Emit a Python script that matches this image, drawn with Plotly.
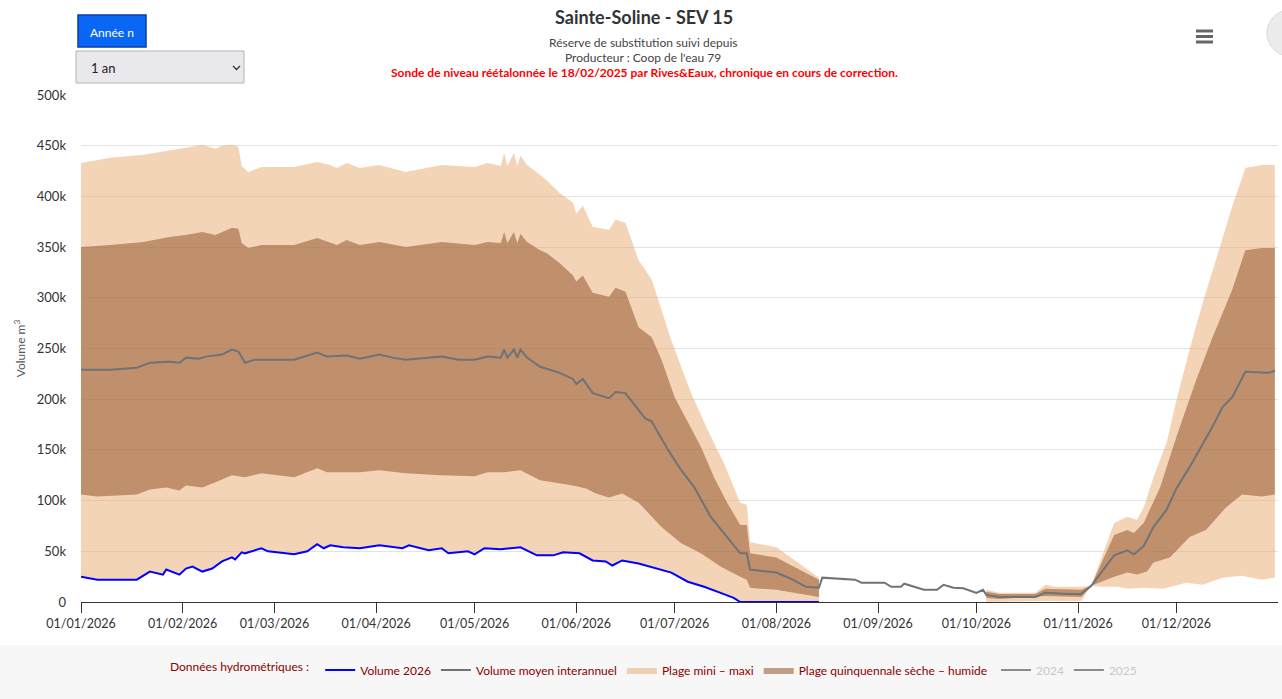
import plotly.graph_objects as go

# ---------------- DATA (values in m3) ----------------
max1_dates = ["2026-01-01","2026-01-06","2026-01-10","2026-01-20","2026-01-28","2026-02-02","2026-02-07","2026-02-11","2026-02-13","2026-02-16","2026-02-18","2026-02-19","2026-02-21","2026-02-25","2026-03-07","2026-03-14","2026-03-18","2026-03-20","2026-03-23","2026-03-27","2026-04-02","2026-04-10","2026-04-21","2026-05-01","2026-05-05","2026-05-09","2026-05-10","2026-05-11","2026-05-13","2026-05-14","2026-05-15","2026-05-17","2026-05-21","2026-05-23","2026-05-27","2026-05-31","2026-06-01","2026-06-03","2026-06-06","2026-06-11","2026-06-13","2026-06-16","2026-06-20","2026-06-24","2026-06-30","2026-07-06","2026-07-11","2026-07-16","2026-07-21","2026-07-23","2026-07-24","2026-08-01","2026-08-08","2026-08-14"]
max1_vals = [433000,436000,438000,441000,445000,448000,451000,447000,450000,451000,449000,430000,424000,429000,429000,434000,431000,428000,433000,428000,431000,424000,431000,429000,433000,430000,443000,430000,443000,430000,440000,431000,421000,416000,403000,394000,383000,391000,370000,367000,377000,374000,337000,318000,258000,206000,170000,137000,98000,96000,59000,54000,38000,24000]

qhigh1_dates = ["2026-01-01","2026-01-06","2026-01-10","2026-01-20","2026-01-28","2026-02-02","2026-02-07","2026-02-11","2026-02-16","2026-02-18","2026-02-19","2026-02-21","2026-02-25","2026-03-07","2026-03-14","2026-03-20","2026-03-23","2026-03-27","2026-04-02","2026-04-10","2026-04-21","2026-05-01","2026-05-05","2026-05-09","2026-05-10","2026-05-11","2026-05-13","2026-05-14","2026-05-15","2026-05-17","2026-05-21","2026-05-23","2026-05-27","2026-05-31","2026-06-01","2026-06-03","2026-06-06","2026-06-11","2026-06-13","2026-06-16","2026-06-20","2026-06-24","2026-06-27","2026-07-01","2026-07-05","2026-07-09","2026-07-13","2026-07-17","2026-07-21","2026-07-23","2026-07-24","2026-08-01","2026-08-08","2026-08-14"]
qhigh1_vals = [350000,351000,352000,355000,360000,362000,365000,362000,369000,368000,354000,349000,352000,352000,359000,352000,357000,352000,355000,350000,355000,352000,355000,354000,365000,354000,365000,354000,363000,355000,347000,344000,334000,322000,316000,322000,305000,301000,310000,306000,271000,261000,239000,202000,177000,153000,123000,98000,76000,76000,48000,44000,32000,22000]

qlow1_dates = ["2026-01-01","2026-01-06","2026-01-18","2026-01-22","2026-01-27","2026-01-31","2026-02-02","2026-02-07","2026-02-11","2026-02-16","2026-02-20","2026-02-25","2026-03-07","2026-03-14","2026-03-17","2026-03-27","2026-04-02","2026-04-10","2026-04-21","2026-05-01","2026-05-05","2026-05-10","2026-05-15","2026-05-21","2026-05-31","2026-06-04","2026-06-07","2026-06-11","2026-06-15","2026-06-20","2026-06-27","2026-07-03","2026-07-09","2026-07-15","2026-07-21","2026-07-23","2026-07-24","2026-08-01","2026-08-14"]
qlow1_vals = [106000,104000,106000,111000,113000,110000,115000,113000,118000,125000,123000,127000,123000,132000,128000,128000,130000,127000,125000,124000,128000,128000,130000,120000,115000,112000,107000,103000,107000,98000,74000,58000,48000,35000,25000,22000,14000,12000,5000]

min1_dates = ["2026-01-01","2026-01-06","2026-01-18","2026-01-22","2026-01-26","2026-01-27","2026-01-31","2026-02-02","2026-02-04","2026-02-07","2026-02-10","2026-02-13","2026-02-16","2026-02-17","2026-02-19","2026-02-20","2026-02-25","2026-02-27","2026-03-07","2026-03-11","2026-03-14","2026-03-16","2026-03-18","2026-03-22","2026-03-27","2026-04-02","2026-04-09","2026-04-11","2026-04-17","2026-04-21","2026-04-23","2026-04-29","2026-05-01","2026-05-04","2026-05-09","2026-05-15","2026-05-20","2026-05-25","2026-05-28","2026-06-02","2026-06-06","2026-06-10","2026-06-12","2026-06-15","2026-06-20","2026-06-30","2026-07-05","2026-07-10","2026-07-15","2026-07-19","2026-07-21","2026-08-14"]
min1_vals = [25000,22000,22000,30000,27000,32000,27000,33000,35000,30000,33000,40000,44000,42000,49000,48000,53000,50000,47000,50000,57000,53000,56000,54000,53000,56000,53000,56000,51000,53000,48000,50000,47000,53000,52000,54000,46000,46000,49000,48000,41000,40000,36000,41000,38000,29000,20000,15000,9000,4000,0,0]

max2_dates = ["2026-10-04","2026-10-08","2026-10-19","2026-10-22","2026-10-25","2026-11-02","2026-11-05","2026-11-12","2026-11-16","2026-11-19","2026-11-21","2026-11-24","2026-11-28","2026-12-01","2026-12-05","2026-12-09","2026-12-13","2026-12-18","2026-12-22","2026-12-27","2026-12-31"]
max2_vals = [12000,9000,9000,17000,15000,15000,16000,78000,84000,81000,93000,123000,157000,199000,249000,295000,337000,390000,428000,431000,431000]

qhigh2_dates = ["2026-10-04","2026-10-08","2026-10-19","2026-10-22","2026-11-02","2026-11-05","2026-11-12","2026-11-16","2026-11-18","2026-11-21","2026-11-26","2026-12-01","2026-12-07","2026-12-12","2026-12-18","2026-12-22","2026-12-27","2026-12-31"]
qhigh2_vals = [10000,8000,8000,13000,12000,16000,66000,71000,68000,78000,113000,163000,219000,261000,308000,347000,349000,349000]

qlow2_dates = ["2026-10-04","2026-10-08","2026-10-22","2026-11-02","2026-11-05","2026-11-12","2026-11-16","2026-11-19","2026-11-22","2026-11-24","2026-11-29","2026-12-05","2026-12-10","2026-12-16","2026-12-21","2026-12-27","2026-12-31"]
qlow2_vals = [4000,3000,6000,5000,16000,25000,29000,27000,30000,39000,44000,64000,71000,93000,106000,104000,106000]

min2_dates = ["2026-10-04","2026-10-19","2026-11-02","2026-11-05","2026-11-08","2026-11-13","2026-11-16","2026-11-21","2026-11-27","2026-12-04","2026-12-09","2026-12-15","2026-12-21","2026-12-27","2026-12-31"]
min2_vals = [0,1000,1000,16000,15000,15000,13000,14000,13000,19000,17000,24000,26000,22000,24000]

mean_dates = ["2026-01-01","2026-01-10","2026-01-18","2026-01-22","2026-01-28","2026-01-31","2026-02-02","2026-02-06","2026-02-08","2026-02-13","2026-02-16","2026-02-18","2026-02-20","2026-02-23","2026-03-07","2026-03-14","2026-03-17","2026-03-23","2026-03-27","2026-04-02","2026-04-06","2026-04-10","2026-04-21","2026-04-26","2026-05-01","2026-05-05","2026-05-09","2026-05-10","2026-05-11","2026-05-13","2026-05-14","2026-05-15","2026-05-17","2026-05-21","2026-05-27","2026-05-31","2026-06-01","2026-06-03","2026-06-06","2026-06-11","2026-06-13","2026-06-16","2026-06-22","2026-06-24","2026-06-29","2026-07-03","2026-07-07","2026-07-12","2026-07-17","2026-07-21","2026-07-23","2026-07-24","2026-08-01","2026-08-06","2026-08-10","2026-08-14","2026-08-15","2026-08-25","2026-08-27","2026-09-03","2026-09-05","2026-09-08","2026-09-09","2026-09-12","2026-09-15","2026-09-19","2026-09-21","2026-09-24","2026-09-27","2026-10-01","2026-10-03","2026-10-04","2026-10-08","2026-10-19","2026-10-22","2026-10-29","2026-11-02","2026-11-05","2026-11-12","2026-11-16","2026-11-18","2026-11-21","2026-11-24","2026-11-28","2026-12-01","2026-12-05","2026-12-08","2026-12-12","2026-12-15","2026-12-18","2026-12-22","2026-12-29","2026-12-31"]
mean_vals = [229000,229000,231000,236000,237000,236000,241000,240000,242000,244000,249000,247000,236000,239000,239000,246000,242000,243000,240000,244000,241000,239000,242000,239000,239000,242000,241000,249000,241000,249000,241000,249000,241000,232000,226000,220000,215000,220000,206000,201000,207000,206000,181000,178000,150000,130000,113000,84000,64000,48000,48000,32000,29000,22000,15000,14000,24000,22000,19000,19000,15000,15000,18000,15000,12000,12000,17000,14000,13500,9000,12000,7000,5000,5000,9000,8000,8000,16000,46000,51000,47000,55000,74000,91000,112000,133000,150000,173000,192000,202000,227000,226000,228000]

vol2026_dates = ["2026-01-01","2026-01-06","2026-01-18","2026-01-22","2026-01-26","2026-01-27","2026-01-31","2026-02-02","2026-02-04","2026-02-07","2026-02-10","2026-02-13","2026-02-16","2026-02-17","2026-02-19","2026-02-20","2026-02-25","2026-02-27","2026-03-07","2026-03-11","2026-03-14","2026-03-16","2026-03-18","2026-03-22","2026-03-27","2026-04-02","2026-04-09","2026-04-11","2026-04-17","2026-04-21","2026-04-23","2026-04-29","2026-05-01","2026-05-04","2026-05-09","2026-05-15","2026-05-20","2026-05-25","2026-05-28","2026-06-02","2026-06-06","2026-06-10","2026-06-12","2026-06-15","2026-06-20","2026-06-30","2026-07-05","2026-07-10","2026-07-15","2026-07-19","2026-07-21","2026-08-14"]
vol2026_vals = [25000,22000,22000,30000,27000,32000,27000,33000,35000,30000,33000,40000,44000,42000,49000,48000,53000,50000,47000,50000,57000,53000,56000,54000,53000,56000,53000,56000,51000,53000,48000,50000,47000,53000,52000,54000,46000,46000,49000,48000,41000,40000,36000,41000,38000,29000,20000,15000,9000,4000,0,0]

y_tickvals = [0,50000,100000,150000,200000,250000,300000,350000,400000,450000,500000]
y_ticktext = ["0","50k","100k","150k","200k","250k","300k","350k","400k","450k","500k"]
x_tickvals = ["2026-01-01","2026-02-01","2026-03-01","2026-04-01","2026-05-01","2026-06-01","2026-07-01","2026-08-01","2026-09-01","2026-10-01","2026-11-01","2026-12-01"]
x_ticktext = ["01/01/2026","01/02/2026","01/03/2026","01/04/2026","01/05/2026","01/06/2026","01/07/2026","01/08/2026","01/09/2026","01/10/2026","01/11/2026","01/12/2026"]

# ---------------- STYLE ----------------
W, H = 1282, 699
L, R, T, B = 81, 4, 95, 97
FONT = "Lato"
LIGHT = "rgba(234,170,112,0.5)"
DARK = "rgba(157,97,58,0.6)"
MEANC = "#6e7378"
BLUE = "#0000ff"
LEGC = "#8b0000"

def px(x):
    return (x - L) / (W - L - R)

def py(y):
    return (H - B - y) / (H - T - B)

fig = go.Figure()
# band 1
fig.add_trace(go.Scatter(x=min1_dates, y=min1_vals, mode="lines", line=dict(width=0, color=LIGHT),
                         showlegend=False, hoverinfo="skip"))
fig.add_trace(go.Scatter(x=max1_dates, y=max1_vals, mode="lines", line=dict(width=0, color=LIGHT),
                         fill="tonexty", fillcolor=LIGHT, name="Plage mini – maxi",
                         legendgroup="mm", legendrank=3))
fig.add_trace(go.Scatter(x=qlow1_dates, y=qlow1_vals, mode="lines", line=dict(width=0, color=DARK),
                         showlegend=False, hoverinfo="skip"))
fig.add_trace(go.Scatter(x=qhigh1_dates, y=qhigh1_vals, mode="lines", line=dict(width=0, color=DARK),
                         fill="tonexty", fillcolor=DARK, name="Plage quinquennale sèche – humide",
                         legendgroup="q", legendrank=4))
# band 2
fig.add_trace(go.Scatter(x=min2_dates, y=min2_vals, mode="lines", line=dict(width=0, color=LIGHT),
                         showlegend=False, hoverinfo="skip"))
fig.add_trace(go.Scatter(x=max2_dates, y=max2_vals, mode="lines", line=dict(width=0, color=LIGHT),
                         fill="tonexty", fillcolor=LIGHT, showlegend=False, legendgroup="mm"))
fig.add_trace(go.Scatter(x=qlow2_dates, y=qlow2_vals, mode="lines", line=dict(width=0, color=DARK),
                         showlegend=False, hoverinfo="skip"))
fig.add_trace(go.Scatter(x=qhigh2_dates, y=qhigh2_vals, mode="lines", line=dict(width=0, color=DARK),
                         fill="tonexty", fillcolor=DARK, showlegend=False, legendgroup="q"))
# lines
fig.add_trace(go.Scatter(x=mean_dates, y=mean_vals, mode="lines", line=dict(width=2, color=MEANC),
                         name="Volume moyen interannuel", legendrank=2))
fig.add_trace(go.Scatter(x=vol2026_dates, y=vol2026_vals, mode="lines", line=dict(width=2, color=BLUE),
                         name="Volume 2026", legendrank=1))
# hidden series (legend only)
fig.add_trace(go.Scatter(x=mean_dates, y=mean_vals, mode="lines", line=dict(width=2, color="#222"),
                         name="2024", visible="legendonly", legend="legend2"))
fig.add_trace(go.Scatter(x=mean_dates, y=mean_vals, mode="lines", line=dict(width=2, color="#222"),
                         name="2025", visible="legendonly", legend="legend2"))

shapes = []
# bottom grey strip
shapes.append(dict(type="rect", xref="paper", yref="paper", x0=px(0), x1=px(W), y0=py(645), y1=py(H),
                   fillcolor="#f7f7f7", line=dict(width=0), layer="below"))
# "Année n" button
shapes.append(dict(type="rect", xref="paper", yref="paper", x0=px(78), x1=px(146), y0=py(15), y1=py(47),
                   fillcolor="#0a66f5", line=dict(color="#0a3fa8", width=1.5)))
# dropdown
shapes.append(dict(type="rect", xref="paper", yref="paper", x0=px(76), x1=px(244), y0=py(51), y1=py(83),
                   fillcolor="#e9e9ed", line=dict(color="#b5b5b8", width=1)))
shapes.append(dict(type="path", xref="paper", yref="paper",
                   path=f"M {px(233)} {py(66)} L {px(236.5)} {py(69.5)} L {px(240)} {py(66)}",
                   line=dict(color="#333", width=1.3)))
# hamburger
for yy in (31, 36.5, 42):
    shapes.append(dict(type="line", xref="paper", yref="paper", x0=px(1196), x1=px(1213), y0=py(yy), y1=py(yy),
                       line=dict(color="#666", width=3)))
# round widget at the right edge
shapes.append(dict(type="circle", xref="paper", yref="paper", x0=px(1267), x1=px(1313), y0=py(10), y1=py(56),
                   fillcolor="#ececec", line=dict(color="#d8d8d8", width=1)))

ann = []
def text(x, y, s, size=12, color="#333", xanchor="center", bold=False):
    ann.append(dict(x=px(x), y=py(y), xref="paper", yref="paper", text=(f"<b>{s}</b>" if bold else s),
                    showarrow=False, xanchor=xanchor, yanchor="middle",
                    font=dict(family=FONT, size=size, color=color)))

text(644, 17, "Sainte-Soline - SEV 15", size=18, color="#333", bold=True)
text(643, 43, "Réserve de substitution suivi depuis", size=12, color="#444")
text(643, 57, "Producteur : Coop de l'eau 79", size=12, color="#444")
text(644, 72, "Sonde de niveau réétalonnée le 18/02/2025 par Rives&amp;Eaux, chronique en cours de correction.",
     size=12, color="#ff0000", bold=True)
text(112, 32, "Année n", size=12, color="#ffffff")
text(89, 68, "1 an", size=13, color="#222", xanchor="left")

fig.update_layout(
    width=W, height=H,
    margin=dict(l=L, r=R, t=T, b=B, autoexpand=False),
    paper_bgcolor="#ffffff", plot_bgcolor="#ffffff",
    font=dict(family=FONT, size=12, color="#333"),
    shapes=shapes, annotations=ann,
    showlegend=True,
    legend=dict(orientation="h", x=px(168), y=py(670), xanchor="left", yanchor="middle",
                font=dict(family=FONT, size=12, color=LEGC),
                title=dict(text="Données hydrométriques : ", side="left",
                           font=dict(family=FONT, size=12, color=LEGC)),
                bgcolor="rgba(0,0,0,0)", traceorder="normal", itemwidth=30),
    legend2=dict(orientation="h", x=px(996), y=py(670), xanchor="left", yanchor="middle",
                 font=dict(family=FONT, size=12, color="#999"), bgcolor="rgba(0,0,0,0)", itemwidth=30),
    xaxis=dict(type="date", range=["2026-01-01", "2026-12-31 23:00"],
               tickvals=x_tickvals, ticktext=x_ticktext, ticks="outside", ticklen=10,
               tickcolor="#333", showline=True, linecolor="#333", linewidth=1.3,
               showgrid=False, zeroline=False,
               tickfont=dict(family=FONT, size=12.5, color="#333")),
    yaxis=dict(range=[0, 500000], tickvals=y_tickvals, ticktext=y_ticktext,
               showgrid=True, gridcolor="#e3e3e3", gridwidth=1, zeroline=False,
               ticks="", ticklabelstandoff=14, tickfont=dict(family=FONT, size=13, color="#333"),
               title=dict(text="Volume m<sup>3</sup>", font=dict(family=FONT, size=12, color="#555"), standoff=8)),
    hovermode=False,
)

fig.write_html("out.html", config={"displayModeBar": False},
               post_script="document.body.style.margin='0';document.body.style.overflow='hidden';")
